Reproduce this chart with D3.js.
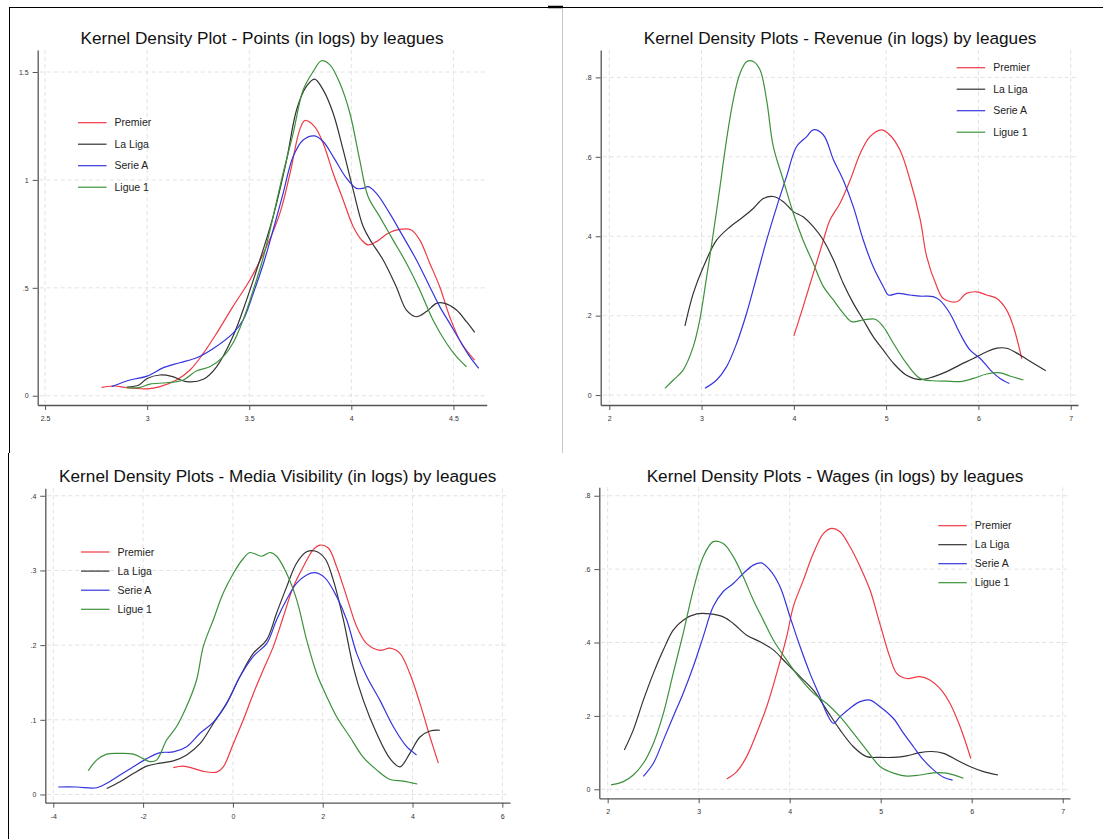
<!DOCTYPE html>
<html>
<head>
<meta charset="utf-8" />
<script src="https://cdn.jsdelivr.net/npm/d3@7"></script>
<style>
  body { margin: 0; background: #fff; }
  svg { display: block; font-family: "Liberation Sans", Arial, sans-serif; }
  .grid line { stroke: #e2e2e2; stroke-dasharray: 4,3; }
  .axis path, .axis line { stroke: #555; }
  .axis text { fill: #333; font-size: 7px; }
</style>
</head>
<body>
<svg id="chart" width="1103" height="839"></svg>
<script>
// ---- data ----
var leagues = ['Premier', 'La Liga', 'Serie A', 'Ligue 1'];
var leagueColors = ['#ee3a44', '#333333', '#3535dd', '#3c923c'];

var titles = [
  'Kernel Density Plot - Points (in logs) by leagues',
  'Kernel Density Plots - Revenue (in logs) by leagues',
  'Kernel Density Plots - Media Visibility (in logs) by leagues',
  'Kernel Density Plots - Wages (in logs) by leagues'
];

var pointsXTicks = [2.5, 3, 3.5, 4, 4.5], pointsXLabels = ['2.5', '3', '3.5', '4', '4.5'];
var pointsYTicks = [0, 0.5, 1, 1.5], pointsYLabels = ['0', '.5', '1', '1.5'];
var revenueXTicks = [2, 3, 4, 5, 6, 7], revenueXLabels = ['2', '3', '4', '5', '6', '7'];
var revenueYTicks = [0, 0.2, 0.4, 0.6, 0.8], revenueYLabels = ['0', '.2', '.4', '.6', '.8'];
var mediaXTicks = [-4, -2, 0, 2, 4, 6], mediaXLabels = ['-4', '-2', '0', '2', '4', '6'];
var mediaYTicks = [0, 0.1, 0.2, 0.3, 0.4], mediaYLabels = ['0', '.1', '.2', '.3', '.4'];
var wagesXTicks = [2, 3, 4, 5, 6, 7], wagesXLabels = ['2', '3', '4', '5', '6', '7'];
var wagesYTicks = [0, 0.2, 0.4, 0.6, 0.8], wagesYLabels = ['0', '.2', '.4', '.6', '.8'];

// Points
var pointsPremier = [[2.777,.039],[2.843,.045],[2.90,.037],[3.0,.032],[3.063,.042],[3.144,.073],[3.21,.119],[3.275,.196],[3.34,.289],[3.42,.413],[3.503,.536],[3.585,.691],[3.65,.845],[3.70,1.031],[3.747,1.232],[3.772,1.275],[3.82,1.247],[3.862,1.17],[3.911,1.031],[3.96,.907],[4.009,.784],[4.05,.722],[4.082,.699],[4.123,.714],[4.18,.753],[4.237,.771],[4.294,.768],[4.335,.722],[4.384,.614],[4.433,.505],[4.482,.366],[4.539,.243],[4.604,.165]];
var pointsLaLiga = [[2.90,.04],[2.96,.05],[3.0,.08],[3.063,.096],[3.12,.09],[3.193,.065],[3.275,.076],[3.34,.134],[3.42,.274],[3.487,.444],[3.552,.629],[3.617,.83],[3.683,1.093],[3.732,1.325],[3.78,1.433],[3.82,1.467],[3.862,1.417],[3.911,1.309],[3.96,1.139],[4.009,.954],[4.058,.784],[4.10,.71],[4.156,.629],[4.22,.505],[4.27,.397],[4.319,.366],[4.368,.39],[4.417,.428],[4.458,.428],[4.515,.397],[4.564,.343],[4.604,.294]];
var pointsSerieA = [[2.826,.042],[2.916,.073],[3.0,.091],[3.08,.13],[3.16,.153],[3.243,.176],[3.324,.219],[3.42,.289],[3.47,.351],[3.52,.475],[3.57,.614],[3.617,.768],[3.666,.938],[3.715,1.108],[3.764,1.185],[3.82,1.204],[3.862,1.178],[3.911,1.108],[3.976,1.008],[4.025,.961],[4.057,.961],[4.082,.969],[4.123,.938],[4.188,.845],[4.254,.737],[4.319,.629],[4.384,.505],[4.433,.413],[4.482,.335],[4.53,.258],[4.58,.181],[4.624,.127]];
var pointsLigue1 = [[2.9,.037],[2.965,.039],[3.014,.054],[3.095,.06],[3.177,.073],[3.243,.116],[3.307,.134],[3.373,.181],[3.42,.243],[3.47,.351],[3.52,.49],[3.57,.645],[3.617,.83],[3.666,1.031],[3.715,1.216],[3.764,1.417],[3.813,1.502],[3.854,1.552],[3.895,1.533],[3.944,1.448],[3.993,1.309],[4.041,1.093],[4.082,.923],[4.139,.83],[4.204,.722],[4.27,.614],[4.335,.49],[4.4,.351],[4.466,.243],[4.515,.181],[4.564,.134]];

// Revenue
var revenuePremier = [[4.0,.149],[4.10,.222],[4.21,.306],[4.32,.39],[4.39,.44],[4.5,.483],[4.61,.541],[4.72,.609],[4.825,.651],[4.95,.668],[5.04,.655],[5.15,.617],[5.26,.541],[5.37,.441],[5.44,.348],[5.55,.273],[5.62,.243],[5.765,.235],[5.87,.256],[5.98,.26],[6.09,.252],[6.2,.243],[6.306,.214],[6.38,.172],[6.47,.092]];
var revenueLaLiga = [[2.82,.174],[2.91,.256],[3.02,.323],[3.163,.39],[3.31,.424],[3.452,.449],[3.56,.47],[3.67,.495],[3.777,.5],[3.886,.487],[3.994,.462],[4.1,.449],[4.21,.424],[4.32,.39],[4.43,.34],[4.536,.281],[4.645,.231],[4.753,.189],[4.86,.147],[4.97,.113],[5.08,.08],[5.22,.05],[5.367,.039],[5.51,.046],[5.656,.059],[5.8,.076],[5.945,.092],[6.09,.109],[6.2,.118],[6.306,.118],[6.45,.101],[6.595,.08],[6.73,.061]];
var revenueSerieA = [[3.037,.017],[3.163,.038],[3.27,.071],[3.38,.13],[3.488,.206],[3.597,.298],[3.705,.39],[3.814,.474],[3.92,.55],[4.03,.626],[4.14,.651],[4.21,.668],[4.32,.655],[4.43,.592],[4.536,.541],[4.645,.474],[4.753,.39],[4.86,.323],[4.97,.273],[5.024,.252],[5.13,.256],[5.26,.252],[5.367,.249],[5.51,.248],[5.58,.239],[5.69,.206],[5.8,.155],[5.91,.113],[6.02,.092],[6.13,.063],[6.234,.042],[6.335,.029]];
var revenueLigue1 = [[2.603,.017],[2.694,.038],[2.8,.063],[2.91,.122],[2.98,.189],[3.05,.29],[3.127,.407],[3.2,.525],[3.27,.642],[3.343,.743],[3.416,.81],[3.49,.84],[3.56,.84],[3.633,.819],[3.705,.743],[3.777,.626],[3.886,.541],[3.994,.458],[4.1,.39],[4.21,.332],[4.32,.273],[4.43,.239],[4.536,.206],[4.626,.185],[4.753,.189],[4.88,.191],[4.97,.172],[5.08,.13],[5.22,.08],[5.367,.042],[5.51,.036],[5.656,.035],[5.8,.034],[5.945,.042],[6.09,.053],[6.234,.056],[6.34,.048],[6.487,.038]];

// Media visibility
var mediaPremier = [[-1.327,.036],[-1.105,.038],[-.882,.035],[-.66,.031],[-.362,.030],[-.214,.037],[.009,.068],[.232,.1],[.454,.135],[.677,.167],[.9,.198],[1.123,.238],[1.345,.278],[1.568,.305],[1.79,.328],[1.94,.334],[2.125,.33],[2.31,.305],[2.533,.265],[2.756,.225],[2.98,.202],[3.275,.193],[3.5,.196],[3.72,.189],[3.94,.162],[4.166,.122],[4.39,.077],[4.575,.042]];
var mediaLaLiga = [[-2.81,.008],[-2.515,.017],[-2.218,.028],[-1.92,.038],[-1.624,.042],[-1.327,.045],[-1.03,.053],[-.733,.068],[-.436,.095],[-.14,.122],[.158,.158],[.454,.189],[.751,.207],[.974,.243],[1.197,.278],[1.42,.31],[1.642,.325],[1.828,.326],[2.05,.316],[2.236,.287],[2.46,.234],[2.68,.171],[2.905,.126],[3.2,.082],[3.5,.048],[3.72,.037],[3.94,.055],[4.166,.077],[4.39,.085],[4.61,.086]];
var mediaSerieA = [[-3.89,.01],[-3.48,.01],[-3.035,.009],[-2.81,.015],[-2.515,.026],[-2.218,.037],[-1.92,.048],[-1.624,.056],[-1.327,.057],[-1.03,.064],[-.733,.082],[-.436,.097],[-.14,.122],[.158,.158],[.454,.185],[.751,.202],[.974,.234],[1.197,.261],[1.42,.283],[1.642,.294],[1.828,.297],[2.05,.29],[2.31,.265],[2.533,.234],[2.756,.189],[2.98,.158],[3.275,.126],[3.57,.091],[3.87,.064],[4.09,.053]];
var mediaLigue1 = [[-3.22,.032],[-3.035,.046],[-2.81,.054],[-2.515,.055],[-2.218,.054],[-2.0,.048],[-1.85,.044],[-1.7,.046],[-1.476,.073],[-1.253,.091],[-1.03,.118],[-.81,.153],[-.66,.198],[-.436,.234],[-.213,.27],[.009,.296],[.232,.316],[.38,.324],[.64,.319],[.826,.324],[.974,.319],[1.197,.296],[1.42,.261],[1.642,.207],[1.865,.162],[2.09,.131],[2.31,.104],[2.607,.077],[2.9,.05],[3.2,.033],[3.5,.02],[3.795,.018],[4.107,.014]];

// Wages
var wagesPremier = [[3.308,.028],[3.418,.048],[3.527,.089],[3.637,.153],[3.747,.225],[3.857,.316],[3.967,.416],[4.04,.498],[4.15,.57],[4.26,.643],[4.37,.697],[4.46,.711],[4.553,.702],[4.663,.661],[4.773,.607],[4.883,.543],[4.99,.452],[5.1,.361],[5.176,.316],[5.286,.302],[5.43,.307],[5.54,.298],[5.65,.275],[5.762,.234],[5.872,.171],[5.99,.084]];
var wagesLaLiga = [[2.183,.107],[2.282,.162],[2.392,.243],[2.502,.316],[2.612,.38],[2.72,.434],[2.83,.461],[2.978,.478],[3.125,.478],[3.27,.47],[3.38,.452],[3.527,.42],[3.674,.402],[3.82,.38],[3.967,.343],[4.114,.307],[4.26,.27],[4.407,.216],[4.553,.162],[4.7,.116],[4.846,.089],[4.993,.087],[5.14,.087],[5.286,.091],[5.43,.1],[5.56,.103],[5.69,.098],[5.835,.08],[5.98,.062],[6.13,.048],[6.29,.039]];
var wagesSerieA = [[2.392,.035],[2.502,.071],[2.612,.134],[2.72,.198],[2.83,.262],[2.94,.334],[3.05,.416],[3.16,.498],[3.27,.539],[3.38,.561],[3.49,.588],[3.6,.611],[3.69,.617],[3.784,.597],[3.894,.552],[4.004,.47],[4.114,.389],[4.223,.316],[4.333,.252],[4.407,.207],[4.48,.18],[4.553,.198],[4.663,.221],[4.773,.239],[4.883,.243],[4.993,.225],[5.14,.193],[5.25,.153],[5.36,.116],[5.47,.08],[5.58,.053],[5.69,.033],[5.79,.025]];
var wagesLigue1 = [[2.037,.012],[2.172,.021],[2.282,.039],[2.392,.071],[2.502,.125],[2.612,.207],[2.72,.316],[2.83,.425],[2.94,.543],[3.05,.634],[3.16,.675],[3.27,.67],[3.38,.634],[3.49,.579],[3.6,.516],[3.71,.461],[3.82,.407],[3.967,.352],[4.114,.302],[4.26,.262],[4.407,.234],[4.553,.198],[4.7,.153],[4.846,.107],[4.993,.062],[5.14,.044],[5.286,.036],[5.43,.039],[5.58,.045],[5.725,.044],[5.91,.03]];

// ---- layout of the four panels ----
var panels = [
  { title: titles[0], series: [pointsPremier, pointsLaLiga, pointsSerieA, pointsLigue1],
    xTicks: pointsXTicks, xLabels: pointsXLabels, yTicks: pointsYTicks, yLabels: pointsYLabels,
    xDom: [2.464, 4.663], yDom: [-0.043, 1.602],
    left: 37.7, right: 486.7, top: 50, bottom: 405, titleX: 262, titleY: 44,
    legX: 78, legY: 122.7, legStep: 21.5 },
  { title: titles[1], series: [revenuePremier, revenueLaLiga, revenueSerieA, revenueLigue1],
    xTicks: revenueXTicks, xLabels: revenueXLabels, yTicks: revenueYTicks, yLabels: revenueYLabels,
    xDom: [1.907, 7.079], yDom: [-0.025, 0.869],
    left: 600.7, right: 1078, top: 50, bottom: 405, titleX: 840, titleY: 44,
    legX: 956.7, legY: 67.7, legStep: 21.5 },
  { title: titles[2], series: [mediaPremier, mediaLaLiga, mediaSerieA, mediaLigue1],
    xTicks: mediaXTicks, xLabels: mediaXLabels, yTicks: mediaYTicks, yLabels: mediaYLabels,
    xDom: [-4.178, 6.171], yDom: [-0.011, 0.410],
    left: 45.3, right: 510, top: 488.3, bottom: 802.7, titleX: 277.7, titleY: 481.5,
    legX: 81, legY: 552, legStep: 19.1 },
  { title: titles[3], series: [wagesPremier, wagesLaLiga, wagesSerieA, wagesLigue1],
    xTicks: wagesXTicks, xLabels: wagesXLabels, yTicks: wagesYTicks, yLabels: wagesYLabels,
    xDom: [1.908, 7.08], yDom: [-0.0245, 0.823],
    left: 599.3, right: 1070, top: 487.3, bottom: 798.3, titleX: 835, titleY: 481.5,
    legX: 938.3, legY: 525.7, legStep: 19 }
];

var svg = d3.select('#chart');

// screenshot frame lines
svg.append('line').attr('x1', 9).attr('x2', 1103).attr('y1', 7.5).attr('y2', 7.5).attr('stroke', '#000').attr('stroke-width', 1.2);
svg.append('line').attr('x1', 548).attr('x2', 563).attr('y1', 7).attr('y2', 7).attr('stroke', '#000').attr('stroke-width', 2.5);
svg.append('line').attr('x1', 9.5).attr('x2', 9.5).attr('y1', 7).attr('y2', 453).attr('stroke', '#000');
svg.append('line').attr('x1', 562.5).attr('x2', 562.5).attr('y1', 8).attr('y2', 453).attr('stroke', '#c8c8c8');
svg.append('line').attr('x1', 8.5).attr('x2', 8.5).attr('y1', 453).attr('y2', 839).attr('stroke', '#000');

panels.forEach(function(p) {
  var x = d3.scaleLinear().domain(p.xDom).range([p.left, p.right]);
  var y = d3.scaleLinear().domain(p.yDom).range([p.bottom, p.top]);
  var g = svg.append('g');

  // dashed grid
  var grid = g.append('g').attr('class', 'grid');
  grid.selectAll('.gx').data(p.xTicks).enter().append('line')
    .attr('x1', function(d) { return x(d); }).attr('x2', function(d) { return x(d); })
    .attr('y1', p.top).attr('y2', p.bottom - 2);
  grid.selectAll('.gy').data(p.yTicks).enter().append('line')
    .attr('x1', p.left + 2).attr('x2', p.right - 2)
    .attr('y1', function(d) { return y(d); }).attr('y2', function(d) { return y(d); });

  // axes
  var xAxis = d3.axisBottom(x).tickValues(p.xTicks).tickSize(5).tickSizeOuter(0).tickPadding(6)
    .tickFormat(function(d, i) { return p.xLabels[i]; });
  var yAxis = d3.axisLeft(y).tickValues(p.yTicks).tickSize(5).tickSizeOuter(0).tickPadding(4)
    .tickFormat(function(d, i) { return p.yLabels[i]; });
  g.append('g').attr('class', 'axis').attr('transform', 'translate(0,' + p.bottom + ')').call(xAxis);
  g.append('g').attr('class', 'axis').attr('transform', 'translate(' + p.left + ',0)').call(yAxis);
  g.selectAll('.axis path').attr('stroke-width', 1.3);

  // density curves
  var line = d3.line().x(function(d) { return x(d[0]); }).y(function(d) { return y(d[1]); })
    .curve(d3.curveCatmullRom.alpha(0.5));
  p.series.forEach(function(s, i) {
    g.append('path').datum(s).attr('d', line)
      .attr('fill', 'none').attr('stroke', leagueColors[i]).attr('stroke-width', 1.2);
  });

  // title
  g.append('text').attr('x', p.titleX).attr('y', p.titleY).attr('text-anchor', 'middle')
    .style('font-size', '17.2px').attr('fill', '#111').text(p.title);

  // legend
  var leg = g.append('g').attr('transform', 'translate(' + p.legX + ',' + p.legY + ')');
  leagues.forEach(function(name, i) {
    leg.append('line').attr('x1', 0).attr('x2', 28.5).attr('y1', i * p.legStep).attr('y2', i * p.legStep)
      .attr('stroke', leagueColors[i]).attr('stroke-width', 1.2);
    leg.append('text').attr('x', 36.5).attr('y', i * p.legStep + 3.6)
      .style('font-size', '10.5px').attr('fill', '#222').text(name);
  });
});
</script>
</body>
</html>
